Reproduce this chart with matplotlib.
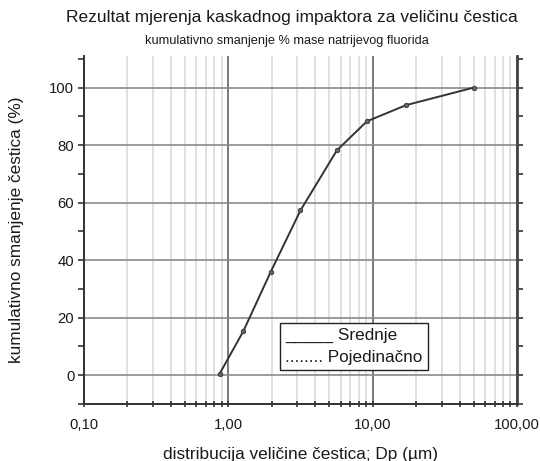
import matplotlib
matplotlib.use("Agg")
import matplotlib.pyplot as plt
from matplotlib.ticker import FixedLocator, LogLocator, NullFormatter, MultipleLocator

plt.rcParams["font.family"] = ["Liberation Sans", "DejaVu Sans"]

# values
dp_um = [0.87, 1.27, 1.96, 3.16, 5.65, 9.13, 17.0, 50.0]
cum_pct = [0.5, 15.3, 35.8, 57.3, 78.2, 88.3, 93.9, 100.0]
x_ticks = [0.1, 1.0, 10.0, 100.0]
x_tick_labels = ["0,10", "1,00", "10,00", "100,00"]
y_ticks = [0, 20, 40, 60, 80, 100]

TITLE = "Rezultat mjerenja kaskadnog impaktora za veličinu čestica"
SUBTITLE = "kumulativno smanjenje % mase natrijevog fluorida"

fig = plt.figure(figsize=(5.4, 4.61), dpi=100)
ax = fig.add_axes([84 / 540, 1 - 404 / 461, 433 / 540, 348 / 461])

ax.set_xscale("log")
ax.set_xlim(0.1, 100)
ax.set_ylim(-10, 111)

ax.xaxis.set_major_locator(FixedLocator(x_ticks))
ax.set_xticklabels(x_tick_labels)
ax.xaxis.set_minor_locator(LogLocator(base=10, subs=range(2, 10)))
ax.xaxis.set_minor_formatter(NullFormatter())
ax.set_yticks(y_ticks)
ax.yaxis.set_minor_locator(MultipleLocator(10))

# grid
ax.grid(True, which="minor", axis="x", color="#d8d8d8", linewidth=1.1, zorder=0)
ax.grid(True, which="major", axis="x", color="#555555", linewidth=1.1, zorder=1)
ax.grid(True, which="major", axis="y", color="#8a8a8a", linewidth=1.2, zorder=1)

ax.spines["top"].set_visible(False)
ax.spines["left"].set_color("#333333")
ax.spines["left"].set_linewidth(1.4)
ax.spines["bottom"].set_color("#333333")
ax.spines["bottom"].set_linewidth(1.4)
ax.spines["right"].set_color("#444444")
ax.spines["right"].set_linewidth(2.0)

ax.tick_params(axis="y", which="both", left=True, right=True, labelright=False,
               length=4, width=1.2, color="#333333", labelsize=10.7, pad=3)
ax.tick_params(axis="x", which="both", length=4, width=1.2, color="#333333",
               direction="inout", labelsize=10.7, pad=8)
for lbl in ax.get_xticklabels() + ax.get_yticklabels():
    lbl.set_color("#1a1a1a")

ax.plot(dp_um, cum_pct, color="#333333", linewidth=1.4, marker="o",
        markersize=3.2, markerfacecolor="#666666", markeredgecolor="#333333",
        markeredgewidth=0.6, zorder=5)

ax.set_xlabel("distribucija veličine čestica; Dp (µm)", fontsize=12.4,
              color="#1a1a1a", labelpad=11)
ax.set_ylabel("kumulativno smanjenje čestica (%)", fontsize=12.4,
              color="#1a1a1a", labelpad=18)

fig.text(0.54, 0.963, TITLE, ha="center", va="center", fontsize=12.5,
         color="#1a1a1a")
fig.text(0.532, 0.91, SUBTITLE, ha="center", va="center", fontsize=9.2,
         color="#1a1a1a")

ax.text(0.465, 0.165, "_____ Srednje\n........ Pojedinačno", transform=ax.transAxes,
        ha="left", va="center", fontsize=12.3, color="#1a1a1a", linespacing=1.55,
        zorder=6,
        bbox=dict(boxstyle="square,pad=0.3", facecolor="white",
                  edgecolor="#222222", linewidth=1.0))

fig.savefig("out.png", dpi=100, facecolor="white")
